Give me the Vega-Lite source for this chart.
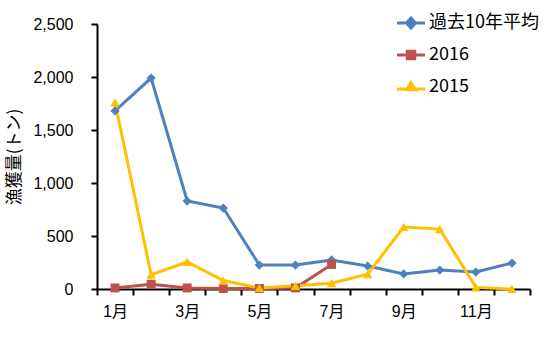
{
  "$schema": "https://vega.github.io/schema/vega-lite/v6.json",
  "width": 433,
  "height": 265,
  "autosize": {"type": "none"},
  "padding": {"left": 97, "top": 24, "right": 26, "bottom": 75},
  "background": "white",
  "config": {
    "view": {"stroke": null},
    "font": "Liberation Sans, Noto Sans CJK JP"
  },
  "data": {
    "values": [
      {"month": 1, "series": "過去10年平均", "value": 1680},
      {"month": 2, "series": "過去10年平均", "value": 1990},
      {"month": 3, "series": "過去10年平均", "value": 830},
      {"month": 4, "series": "過去10年平均", "value": 764},
      {"month": 5, "series": "過去10年平均", "value": 226},
      {"month": 6, "series": "過去10年平均", "value": 226},
      {"month": 7, "series": "過去10年平均", "value": 274},
      {"month": 8, "series": "過去10年平均", "value": 217},
      {"month": 9, "series": "過去10年平均", "value": 142},
      {"month": 10, "series": "過去10年平均", "value": 179},
      {"month": 11, "series": "過去10年平均", "value": 160},
      {"month": 12, "series": "過去10年平均", "value": 245},
      {"month": 1, "series": "2016", "value": 10},
      {"month": 2, "series": "2016", "value": 45},
      {"month": 3, "series": "2016", "value": 10},
      {"month": 4, "series": "2016", "value": 5},
      {"month": 5, "series": "2016", "value": 5},
      {"month": 6, "series": "2016", "value": 10},
      {"month": 7, "series": "2016", "value": 232},
      {"month": 1, "series": "2015", "value": 1760},
      {"month": 2, "series": "2015", "value": 135},
      {"month": 3, "series": "2015", "value": 255},
      {"month": 4, "series": "2015", "value": 80},
      {"month": 5, "series": "2015", "value": 10},
      {"month": 6, "series": "2015", "value": 30},
      {"month": 7, "series": "2015", "value": 55},
      {"month": 8, "series": "2015", "value": 140},
      {"month": 9, "series": "2015", "value": 585},
      {"month": 10, "series": "2015", "value": 565},
      {"month": 11, "series": "2015", "value": 15},
      {"month": 12, "series": "2015", "value": 0}
    ]
  },
  "encoding": {
    "x": {
      "field": "month",
      "type": "ordinal",
      "bandPosition": 0.5,
      "scale": {"type": "band", "paddingInner": 0, "paddingOuter": 0, "domain": [1,2,3,4,5,6,7,8,9,10,11,12]},
      "axis": {
        "title": null,
        "labelAngle": 0,
        "tickBand": "extent",
        "labelExpr": "datum.value % 2 == 1 ? datum.value + '月' : ''",
        "labelFontSize": 16,
        "labelColor": "black",
        "labelPadding": 8,
        "domainColor": "black",
        "domainWidth": 2,
        "tickColor": "black",
        "tickWidth": 2,
        "tickSize": 6,
        "labelFont": "Liberation Sans, Noto Sans CJK JP"
      }
    },
    "y": {
      "field": "value",
      "type": "quantitative",
      "scale": {"domain": [0, 2500], "nice": false},
      "axis": {
        "title": "漁獲量(トン)",
        "titleFont": "Noto Sans CJK JP",
        "titleFontSize": 17,
        "titleFontWeight": "normal",
        "titleColor": "black",
        "titlePadding": 9,
        "values": [0, 500, 1000, 1500, 2000, 2500],
        "format": ",d",
        "grid": false,
        "labelFont": "Liberation Sans",
        "labelFontSize": 16,
        "labelColor": "black",
        "labelPadding": 18,
        "domainColor": "black",
        "domainWidth": 2,
        "tickColor": "black",
        "tickWidth": 2,
        "tickSize": 6
      }
    },
    "color": {
      "field": "series",
      "type": "nominal",
      "scale": {"domain": ["過去10年平均", "2016", "2015"], "range": ["#4F81BD", "#C0504D", "#FFC000"]},
      "legend": {
        "title": null,
        "orient": "none",
        "legendX": 305,
        "legendY": -10,
        "labelFontSize": 18,
        "labelColor": "black",
        "labelFont": "Noto Sans CJK JP",
        "labelOffset": 9,
        "symbolSize": 100,
        "symbolStrokeWidth": 3,
        "rowPadding": 11,
        "symbolOpacity": 1,
        "encode": {
          "symbols": {
            "update": {
              "shape": {"signal": "datum.value == '2016' ? 'M-2.8,0H2.8M-0.75,-0.75H0.75V0.75H-0.75Z' : (datum.value == '2015' ? 'M-2.8,0.4H2.8M0,-0.85L0.85,0.55H-0.85Z' : 'M-2.8,0H2.8M0,-1L0.9,0L0,1L-0.9,0Z')"},
              "fill": {"scale": "color", "field": "value"},
              "stroke": {"scale": "color", "field": "value"},
              "strokeWidth": {"value": 3}
            }
          }
        }
      }
    }
  },
  "layer": [
    {
      "mark": {"type": "line", "strokeWidth": 3}
    },
    {
      "transform": [{"filter": "datum.series == '過去10年平均'"}],
      "mark": {"type": "point", "filled": true, "opacity": 1, "size": 85, "shape": "diamond"}
    },
    {
      "transform": [{"filter": "datum.series == '2016'"}],
      "mark": {"type": "point", "filled": true, "opacity": 1, "size": 80, "shape": "square"}
    },
    {
      "transform": [{"filter": "datum.series == '2015'"}],
      "mark": {"type": "point", "filled": true, "opacity": 1, "size": 90, "shape": "triangle-up"}
    }
  ]
}
